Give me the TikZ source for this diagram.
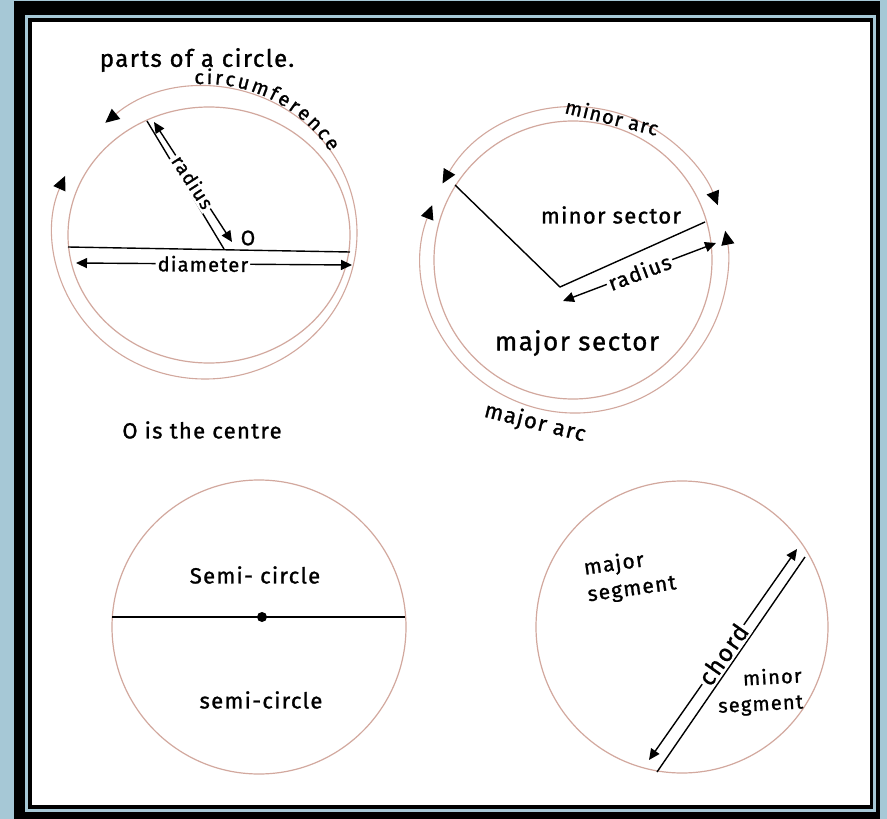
\documentclass[tikz,border=0pt]{standalone}
\usepackage{fontspec}
\setmainfont{Fira Sans}[LetterSpace=6, FakeBold=1.2]
\usepackage{tikz}
\usetikzlibrary{arrows.meta,decorations.text}
\definecolor{marcoazul}{RGB}{166,200,214}
\definecolor{trazo}{RGB}{210,168,158}
\newcommand{\letra}[1]{\fontsize{#1}{#1}\selectfont}

\begin{document}
\begin{tikzpicture}[x=1pt, y=1pt, >={Triangle[length=11pt,width=10pt]}, line width=1.4pt,
    circulo/.style={draw=trazo, line width=1.2pt},
    arco/.style={draw=trazo, line width=1.1pt,
      arrows={Triangle[black,length=14pt,width=13pt]-Triangle[black,length=14pt,width=13pt]}},
    etiqueta/.style={font=\letra{22}, inner sep=1pt},
    enlinea/.style={etiqueta, fill=white, sloped, inner sep=2pt}]
    % marco
    \fill[marcoazul] (0,0) rectangle (887,-819);
    \fill[black] (14,-1) rectangle (880,-819);
    \fill[marcoazul] (25,-15) rectangle (876,-812);
    \fill[black] (28,-18) rectangle (873,-809);
    \fill[white] (32,-22) rectangle (870,-805);
    \useasboundingbox (0,0) rectangle (887,-819);

    % circulo 1: radio, diametro, circunferencia
    \coordinate (c1) at (209,-235);
    \coordinate (O1) at (224,-249);
    \coordinate (r1) at (147,-121);
    \coordinate (d1a) at (68,-247);
    \coordinate (d1b) at (350,-252);
    \coordinate (ra1) at (154,-122);
    \coordinate (rb1) at (232,-242);
    \coordinate (da1) at (76,-263);
    \coordinate (db1) at (352,-265);
    \draw[circulo] (c1) ellipse [x radius=141, y radius=128];
    \draw[arco] (205,-233) ++(131:152 and 146) arc [start angle=131, end angle=-203, x radius=152, y radius=146];
    \path[decorate, decoration={text along path, text align={fit to path},
        text={|\letra{20}|circumference}}]
        (205,-233) ++(94:149) arc [start angle=94, end angle=33, radius=149];
    \node[etiqueta, font=\letra{24}] (titulo) at (197,-60) {parts of a circle.};
    \draw (r1) -- (O1);
    \draw (d1a) -- (d1b);
    \draw[<->] (ra1) -- node[enlinea, font=\letra{19}] (rad1) {radius} (rb1);
    \draw[<->] (da1) -- node[enlinea, pos=.46, font=\letra{20}] (diam) {diameter} (db1);
    \node[etiqueta, font=\letra{21}] (o1) at (248,-238) {O};
    \node[etiqueta] (centro) at (202,-430) {O is the centre};

    % circulo 2: sectores y arcos
    \coordinate (c2) at (573,-260);
    \coordinate (s2) at (560,-287);
    \coordinate (p2) at (455,-185);
    \coordinate (q2) at (705,-222);
    \coordinate (ra2) at (563,-301);
    \coordinate (rb2) at (716,-243);
    \draw[circulo] (c2) circle (139);
    \draw[arco] (575,-260) ++(150:153) arc [start angle=150, end angle=21, radius=153];
    \draw[arco] (575,-260) ++(159:153) arc [start angle=159, end angle=371, radius=153];
    \draw (p2) -- (s2) -- (q2);
    \draw[<->] (ra2) -- node[enlinea, font=\letra{21}] (rad2) {radius} (rb2);
    \node[etiqueta, font=\letra{20}, rotate=-14] (menorarco) at (612,-117) {minor arc};
    \node[etiqueta] (menorsec) at (611,-215) {minor sector};
    \node[etiqueta, font=\letra{26}] (mayorsec) at (577,-343) {major sector};
    \node[etiqueta, rotate=-14] (mayorarco) at (535,-423) {major arc};

    % circulo 3: semicirculos
    \coordinate (c3) at (259,-627);
    \coordinate (d3a) at (112,-617);
    \coordinate (d3b) at (405,-617);
    \coordinate (m3) at (262,-617);
    \draw[circulo] (c3) circle (147);
    \draw (d3a) -- (d3b);
    \fill (m3) circle (5);
    \node[etiqueta] (semi1) at (255,-575) {Semi- circle};
    \node[etiqueta] (semi2) at (261,-700) {semi-circle};

    % circulo 4: cuerda y segmentos
    \coordinate (c4) at (682,-627);
    \coordinate (k4a) at (657,-772);
    \coordinate (k4b) at (805,-557);
    \coordinate (ka4) at (649,-760);
    \coordinate (kb4) at (797,-549);
    \draw[circulo] (c4) circle (146);
    \draw (k4a) -- (k4b);
    \draw[<->] (ka4) -- node[enlinea, font=\letra{24}] (cuerda) {chord} (kb4);
    \node[etiqueta, font=\fontsize{21}{27}\selectfont, align=left, rotate=8] (mayorseg) at (630,-576) {major\\segment};
    \node[etiqueta, font=\fontsize{20}{26}\selectfont, align=right, rotate=3] (menorseg) at (760,-692) {minor\\segment};
\end{tikzpicture}
\end{document}
